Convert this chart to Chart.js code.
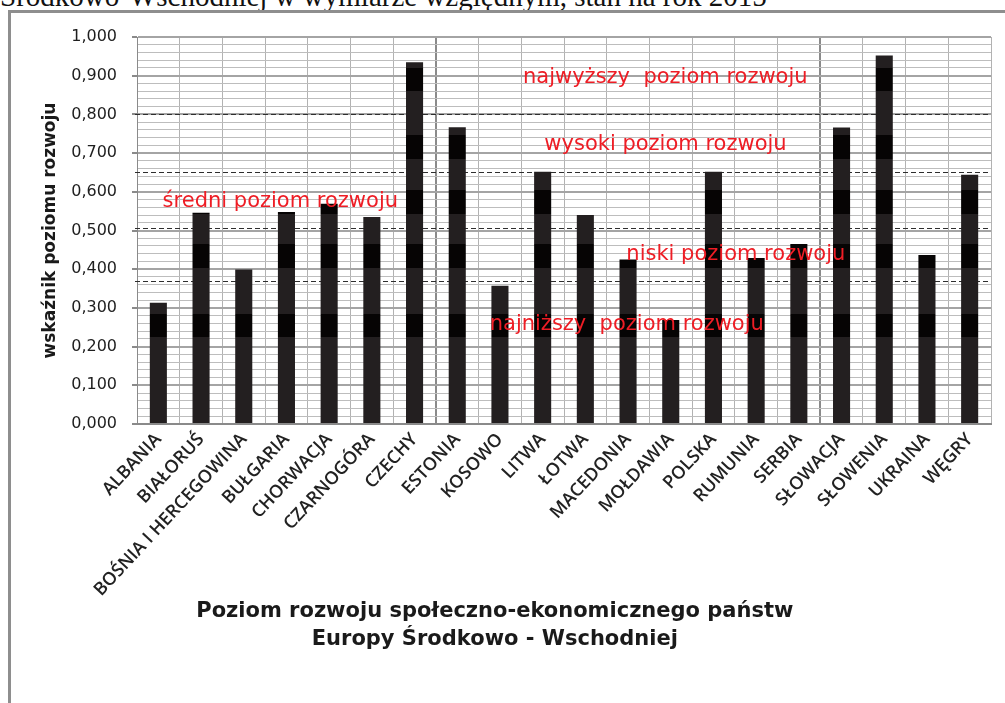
<!DOCTYPE html>
<html lang="pl">
<head>
<meta charset="utf-8">
<title>Poziom rozwoju społeczno-ekonomicznego państw Europy Środkowo-Wschodniej</title>
<script src="https://cdn.jsdelivr.net/npm/chart.js@4.4.1/dist/chart.umd.min.js"></script>
<style>
  html, body { margin: 0; padding: 0; background: #fff; }
  body { width: 1005px; height: 703px; position: relative; overflow: hidden; }
  .caption {
    position: absolute; left: 0; top: -20px;
    font-family: "Liberation Serif", serif; font-size: 29px; color: #111;
    white-space: nowrap;
  }
  .frame {
    position: absolute; left: 8px; top: 10px; width: 1100px; height: 800px;
    border-left: 3px solid #8e8e8e; border-top: 3px solid #8e8e8e;
  }
  .chart-box { position: absolute; left: 0; top: 0; width: 1005px; height: 703px; }
</style>
</head>
<body>
<div class="caption">Środkowo-Wschodniej w wymiarze względnym, stan na rok 2015</div>
<div class="frame"></div>
<div class="chart-box"><canvas id="devChart"></canvas></div>

<script>
// Data
const countries = ['ALBANIA', 'BIAŁORUŚ', 'BOŚNIA I HERCEGOWINA', 'BUŁGARIA', 'CHORWACJA',
  'CZARNOGÓRA', 'CZECHY', 'ESTONIA', 'KOSOWO', 'LITWA', 'ŁOTWA', 'MACEDONIA', 'MOŁDAWIA',
  'POLSKA', 'RUMUNIA', 'SERBIA', 'SŁOWACJA', 'SŁOWENIA', 'UKRAINA', 'WĘGRY'];
const devIndex = [0.313, 0.546, 0.399, 0.548, 0.569, 0.535, 0.935, 0.767, 0.357, 0.652,
  0.540, 0.425, 0.269, 0.652, 0.429, 0.465, 0.766, 0.952, 0.437, 0.644];
const levelBounds = [0.800, 0.651, 0.507, 0.370];
const levelNames = ['najwyższy  poziom rozwoju', 'wysoki poziom rozwoju', 'średni poziom rozwoju',
  'niski poziom rozwoju', 'najniższy  poziom rozwoju'];
const yAxisTitle = 'wskaźnik poziomu rozwoju';
const xAxisTitle = ['Poziom rozwoju społeczno-ekonomicznego państw', 'Europy Środkowo - Wschodniej'];
const yMin = 0, yMax = 1, yLabelStep = 0.1, yGridStep = 0.02;

// Styling
const levelNamePos = [[0.452, 0.894], [0.477, 0.721], [0.030, 0.576], [0.573, 0.439], [0.413, 0.258]];
const scanBands = [[0.225, 0.284], [0.403, 0.465], [0.543, 0.605], [0.685, 0.747], [0.861, 0.920]];
const groupBreaks = [7, 16];

function isMajor(v) {
  const r = v / yLabelStep;
  return Math.abs(r - Math.round(r)) < 1e-6;
}

// Bars are dark grey with darker horizontal bands (scan look)
function barFill(context) {
  const chart = context.chart;
  const area = chart.chartArea;
  if (!area) return '#231f20';
  const base = '#231f20', dark = '#060404';
  const g = chart.ctx.createLinearGradient(0, area.bottom, 0, area.top);
  g.addColorStop(0, base);
  scanBands.forEach(([a, b]) => {
    const fa = (a - yMin) / (yMax - yMin), fb = (b - yMin) / (yMax - yMin);
    g.addColorStop(fa, base);
    g.addColorStop(fa, dark);
    g.addColorStop(fb, dark);
    g.addColorStop(fb, base);
  });
  g.addColorStop(1, base);
  return g;
}

// Dashed level boundaries, behind the bars
const levelLines = {
  id: 'levelLines',
  beforeDatasetsDraw(chart) {
    const { ctx, chartArea: a, scales: { y } } = chart;
    ctx.save();
    ctx.strokeStyle = '#2e2e2e';
    ctx.lineWidth = 1;
    ctx.setLineDash([5, 3]);
    levelBounds.forEach(v => {
      const py = Math.round(y.getPixelForValue(v)) + 0.5;
      ctx.beginPath();
      ctx.moveTo(a.left - 2, py);
      ctx.lineTo(a.right, py);
      ctx.stroke();
    });
    ctx.restore();
  }
};

// Red level names
const levelLabels = {
  id: 'levelLabels',
  afterDatasetsDraw(chart) {
    const { ctx, chartArea: a, scales: { y } } = chart;
    ctx.save();
    ctx.font = '21px "DejaVu Sans"';
    ctx.fillStyle = '#ee1d25';
    ctx.textAlign = 'left';
    ctx.textBaseline = 'middle';
    levelNames.forEach((name, i) => {
      const [fx, v] = levelNamePos[i];
      ctx.fillText(name, a.left + fx * (a.right - a.left), y.getPixelForValue(v));
    });
    ctx.restore();
  }
};

// Bottom caption (sits left of the plot centre in the original)
const bottomCaption = {
  id: 'bottomCaption',
  afterDraw(chart) {
    const { ctx, chartArea: a } = chart;
    ctx.save();
    ctx.font = 'bold 21px "DejaVu Sans"';
    ctx.fillStyle = '#1a1a1a';
    ctx.textAlign = 'center';
    ctx.textBaseline = 'middle';
    const cx = a.left + 0.419 * (a.right - a.left);
    xAxisTitle.forEach((line, i) => ctx.fillText(line, cx, 612 + i * 28));
    ctx.restore();
  }
};

new Chart(document.getElementById('devChart'), {
  type: 'bar',
  data: {
    labels: countries,
    datasets: [{
      label: 'wskaźnik',
      data: devIndex,
      backgroundColor: barFill,
      borderWidth: 0,
      barPercentage: 0.4,
      categoryPercentage: 1
    }]
  },
  options: {
    responsive: true,
    maintainAspectRatio: false,
    animation: false,
    layout: { padding: { left: 40, top: 37, right: 14, bottom: 0 } },
    plugins: {
      legend: { display: false },
      tooltip: { enabled: false }
    },
    scales: {
      x: {
        afterFit: scale => { scale.height = 279; },
        grid: {
          offset: true,
          drawTicks: false,
          color: ctx => groupBreaks.includes(ctx.index) ? '#8a8a8a' : '#b2b2b2',
          lineWidth: ctx => groupBreaks.includes(ctx.index) ? 2 : 1
        },
        border: { color: '#8a8a8a', width: 2 },
        ticks: {
          autoSkip: false,
          maxRotation: 47,
          minRotation: 47,
          padding: 5,
          color: '#222',
          font: { family: '"Open Sans"', size: 18, weight: '600' }
        }
      },
      y: {
        min: yMin,
        max: yMax,
        afterFit: scale => { scale.width = 97; },
        grid: {
          color: ctx => (ctx.tick && isMajor(ctx.tick.value)) ? '#a4a4a4' : '#bdbdbd',
          lineWidth: ctx => (ctx.tick && isMajor(ctx.tick.value)) ? 2 : 1,
          tickColor: ctx => (ctx.tick && isMajor(ctx.tick.value)) ? '#8a8a8a' : 'rgba(0,0,0,0)',
          tickLength: 5
        },
        border: { color: '#8a8a8a', width: 1 },
        ticks: {
          stepSize: yGridStep,
          autoSkip: false,
          padding: 15,
          color: '#1e1e1e',
          font: { family: '"DejaVu Sans"', size: 16 },
          callback: v => isMajor(v) ? (Math.round(v / yLabelStep) * yLabelStep).toFixed(3).replace('.', ',') : ''
        },
        title: {
          display: true,
          text: yAxisTitle,
          padding: 0,
          color: '#1a1a1a',
          font: { family: '"DejaVu Sans"', size: 17, weight: 'bold' }
        }
      }
    }
  },
  plugins: [levelLines, levelLabels, bottomCaption]
});
</script>
</body>
</html>
